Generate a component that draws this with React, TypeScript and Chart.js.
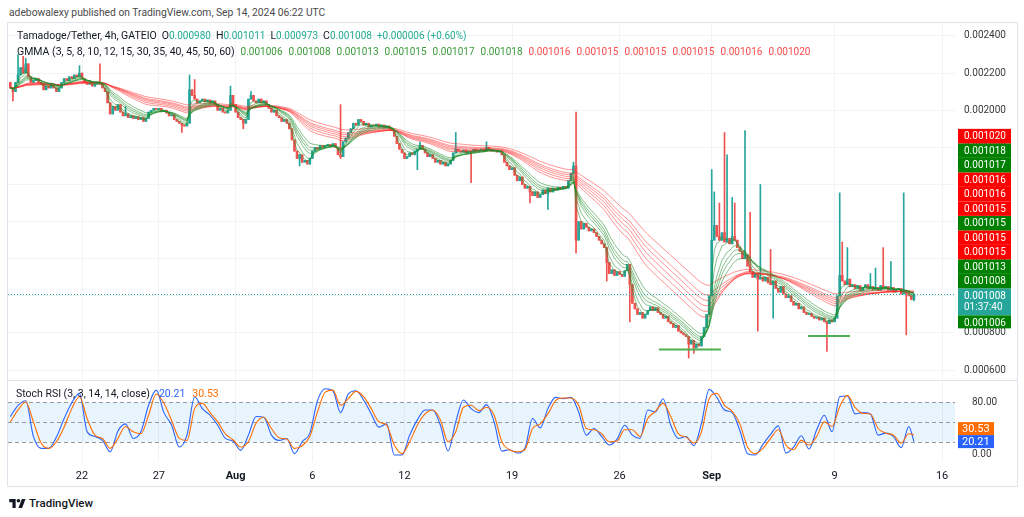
import React, { useEffect, useRef } from 'react';
import { Chart, registerables } from 'chart.js';

Chart.register(...registerables);

// ---------- time / units ----------
const PRICE_UNIT = 0.000001; // closes are written in millionths of USDT
const FIRST_CANDLE_DAY = 16 + 8 / 24; // days after 1 Jul 00:00 UTC (17 Jul 08:00)
const CANDLE_DAYS = 4 / 24;
const STOCH_STEP_DAYS = 12 / 24;
const X_MIN = 16.18;
const X_MAX = 77.84;

// ---------- price data (4h candles) ----------
const firstOpen = 2150;
const closes = [
  2120, 2100, 2150, 2190, 2230, 2200, 2250, 2180, 2150, 2160,
  2170, 2150, 2140, 2110, 2130, 2120, 2140, 2120, 2100, 2120,
  2150, 2170, 2160, 2180, 2170, 2190, 2180, 2200, 2170,
  2150, 2140, 2150, 2130, 2140, 2150, 2140, 2120, 2100,
  2040, 1980, 2020, 2000, 2030, 1990, 1970, 1980, 1960, 1970, 1955, 1965, 1950, 1960, 1940, 1955, 1990,
  2000, 2010, 2005, 2010, 1995, 2000, 1985, 1970, 1975, 1950,
  1940, 1930, 1920, 1915, 1930, 2110,
  2080, 2060, 2040, 2050, 2060, 2045, 2055, 2040, 2050, 2030, 2000, 2010, 1990, 1985, 2000, 2080,
  2030, 1990, 1960, 1950, 1930, 1950, 2060, 2080, 2050, 2040, 2060, 2040, 2050, 2030,
  2010, 1990, 2000, 1970, 1960, 1940, 1950, 1930, 1900, 1840, 1780,
  1740, 1760, 1720, 1730, 1710, 1740, 1780, 1800, 1790, 1810, 1800, 1810, 1815, 1805, 1820, 1800, 1760,
  1750, 1830, 1850, 1880, 1900, 1930, 1920, 1950, 1940, 1920, 1930, 1910, 1920, 1915, 1925, 1910, 1920, 1905, 1915, 1900,
  1890, 1860, 1820, 1790, 1770, 1740, 1750, 1770, 1760, 1780, 1790, 1810, 1790, 1770, 1750, 1760, 1740, 1720, 1730, 1710, 1720, 1700, 1710, 1730, 1770, 1790,
  1780, 1775, 1785, 1770, 1780, 1775, 1790, 1780, 1785, 1790, 1780, 1800, 1790, 1780, 1785, 1775, 1780, 1760,
  1720, 1700, 1680, 1690, 1650, 1620, 1640, 1600, 1580, 1590, 1560, 1540, 1560, 1530, 1545, 1570, 1550, 1580, 1560,
  1580, 1570, 1585, 1575, 1590, 1580, 1620, 1660, 1700, 1300, 1400, 1360, 1390,
  1370, 1350, 1360, 1340, 1320, 1300, 1280, 1260, 1180, 1120,
  1140, 1110, 1130, 1115, 1105, 1135, 1170, 1060, 960,
  930, 900, 910, 880, 900, 920, 940, 920, 935, 910, 900, 880, 890, 860,
  850, 830, 840, 810, 800, 790, 780, 740, 760, 720, 740, 730,
  780, 830, 900, 1000, 1300, 1380, 1320, 1300, 1340, 1290, 1310, 1280, 1320, 1300, 1260, 1240, 1200, 1220, 1160, 1130, 1100, 1120, 1090, 1100,
  1080, 1100, 1070, 1060, 1080, 1040, 1020, 1050, 1010, 990, 1000, 970, 950, 960, 930, 940, 910, 900, 905, 890, 880, 885, 870, 880, 860, 850, 870, 860, 880, 1000, 1110,
  1080, 1060, 1090, 1050, 1060, 1040, 1055, 1030, 1045, 1060, 1040, 1050, 1035, 1045, 1030, 1055, 1040, 1050, 1030, 1045, 1020, 1035, 1040, 1010, 1025, 1015, 1000, 980, 1008,
];
// notable wicks: [candle index, price]
const spikeHighs: [number, number][] = [
  [3, 2300], [5, 2290], [6, 2280], [27, 2240], [35, 2250], [45, 2020], [70, 2190], [72, 2165],
  [86, 2130], [94, 2100], [129, 2030], [160, 1830], [174, 1880], [186, 1830], [220, 1720], [221, 1990],
  [274, 1680], [275, 1560], [277, 1500], [279, 1880], [280, 1760], [282, 1530], [283, 1500], [287, 1890],
  [289, 1450], [293, 1600], [297, 1250], [324, 1555], [325, 1290], [327, 1260], [336, 1120], [338, 1150],
  [341, 1260], [344, 1185], [349, 1555], [353, 1011],
];
const spikeLows: [number, number][] = [
  [1, 2050], [67, 1880], [91, 1900], [113, 1700], [129, 1740], [159, 1680], [180, 1610], [203, 1500],
  [210, 1465], [221, 1230], [233, 1080], [242, 860], [265, 665], [267, 690], [292, 810], [298, 880],
  [319, 700], [350, 790], [353, 973],
];

const gmmaPeriods = [3, 5, 8, 10, 12, 15, 30, 35, 40, 45, 50, 60];
const gmmaLast = [0.001006, 0.001008, 0.001013, 0.001015, 0.001017, 0.001018, 0.001016, 0.001015, 0.001015, 0.001015, 0.001016, 0.00102];
const axisStackAbove = [11, 5, 4, 6, 10, 7, 3, 8, 9, 2, 1]; // top to bottom above the last price
const axisStackBelow = [0];

const lastPrice = 0.001008;
const countdown = '01:37:40';
const legendOHLC: [string, string][] = [['O', '0.000980'], ['H', '0.001011'], ['L', '0.000973'], ['C', '0.001008']];
const legendChange = '+0.000006 (+0.60%)';

const supportLines = [
  { from: 58.56, to: 62.6, price: 0.000711 },
  { from: 68.27, to: 71.0, price: 0.000784 },
];

const priceTicks = [0.0006, 0.0008, 0.001, 0.0012, 0.0014, 0.0016, 0.0018, 0.002, 0.0022, 0.0024];
const dateTicks = [21, 26, 31, 36, 42, 49, 56, 62, 70, 77];
const dateLabels = ['22', '27', 'Aug', '6', '12', '19', '26', 'Sep', '9', '16'];

// ---------- Stoch RSI (sampled every 12h) ----------
const stochK = [
  58, 75, 82, 28, 10, 10, 27, 55, 79, 93,
  35, 28, 22, 5, 36, 47, 25, 35, 75, 98,
  64, 45, 12, 30, 88, 70, 60, 45, 25, 21,
  7, 30, 58, 57, 30, 22, 25, 2, 20, 33,
  82, 100, 97, 64, 92, 97, 83, 62, 42, 47,
  0, 0, 30, 53, 68, 68, 45, 6, 50, 83,
  70, 64, 76, 50, 6, 8, 3, 10, 55, 41,
  70, 87, 85, 87, 65, 30, 40, 28, 15, 24,
  45, 30, 25, 68, 65, 85, 45, 25, 28, 14,
  48, 99, 87, 68, 64, 37, 2, 0, 16, 31,
  44, 3, 12, 29, 9, 38, 60, 35, 88, 89,
  62, 64, 62, 30, 33, 28, 11, 43,
];
const stochD = [
  50, 68, 80, 50, 18, 10, 20, 42, 70, 88,
  55, 30, 25, 10, 25, 43, 35, 32, 60, 92,
  78, 52, 25, 22, 70, 78, 64, 50, 32, 23,
  12, 20, 48, 57, 40, 26, 24, 10, 14, 28,
  65, 95, 98, 75, 85, 96, 88, 70, 50, 45,
  15, 2, 20, 45, 62, 68, 53, 20, 35, 72,
  75, 67, 72, 60, 20, 8, 5, 8, 40, 47,
  62, 82, 86, 86, 75, 40, 38, 32, 20, 21,
  38, 38, 28, 55, 66, 78, 58, 32, 27, 18,
  35, 85, 93, 75, 66, 47, 12, 2, 10, 25,
  38, 15, 8, 22, 15, 28, 50, 43, 73, 90,
  72, 63, 62, 40, 33, 30, 18, 32,
];
const stochLastK = 20.21;
const stochLastD = 30.53;
const stochLevels = [80, 50, 20];

// ---------- styles ----------
const UP = '#26a69a';
const DOWN = '#ef5350';
const GMMA_FAST = 'rgba(30,140,40,0.55)';
const GMMA_SLOW = 'rgba(255,40,40,0.5)';
const LABEL_GREEN = '#008000';
const LABEL_RED = '#ff0000';
const FONT = 'Roboto, "Noto Sans", sans-serif';
const GRID = '#f2f3f5';

function ema(values: number[], period: number) {
  const k = 2 / (period + 1);
  const out: number[] = [];
  let prev = values[0];
  values.forEach((v, i) => {
    prev = i === 0 ? v : v * k + prev * (1 - k);
    out.push(prev);
  });
  return out;
}

const candleDay = (i: number) => FIRST_CANDLE_DAY + i * CANDLE_DAYS;

const candles = closes.map((c, i) => {
  const o = i === 0 ? firstOpen : closes[i - 1];
  let h = Math.max(o, c);
  let l = Math.min(o, c);
  spikeHighs.forEach(([k, v]) => { if (k === i) h = Math.max(h, v); });
  spikeLows.forEach(([k, v]) => { if (k === i) l = Math.min(l, v); });
  return { d: candleDay(i), o: o * PRICE_UNIT, c: c * PRICE_UNIT, h: h * PRICE_UNIT, l: l * PRICE_UNIT, up: c >= o };
});

const mainOverlay = {
  id: 'mainOverlay',
  afterDatasetsDraw(chart: any) {
    const { ctx, chartArea, scales } = chart;
    const y = Math.round(scales.y.getPixelForValue(lastPrice)) + 0.5;
    ctx.save();
    ctx.strokeStyle = UP;
    ctx.lineWidth = 1;
    ctx.setLineDash([1, 2]);
    ctx.beginPath();
    ctx.moveTo(chartArea.left, y);
    ctx.lineTo(chartArea.right, y);
    ctx.stroke();
    ctx.restore();
  },
  afterDraw(chart: any) {
    const { ctx, chartArea, scales } = chart;
    const py = scales.y.getPixelForValue(lastPrice);
    const bx = chartArea.right + 3;
    const bw = 53;
    const h = 14.5;
    ctx.save();
    ctx.font = `10px ${FONT}`;
    ctx.textBaseline = 'middle';
    ctx.textAlign = 'left';
    const drawBox = (top: number, height: number, bg: string, lines: string[]) => {
      ctx.fillStyle = bg;
      ctx.fillRect(bx, top, bw, height);
      ctx.fillStyle = '#ffffff';
      lines.forEach((t, k) => ctx.fillText(t, bx + 6, top + h / 2 + k * 11.5 + 0.5));
    };
    const curTop = py - 6;
    drawBox(curTop, 27, UP, [lastPrice.toFixed(6), countdown]);
    const above = axisStackAbove.slice().reverse();
    above.forEach((idx, k) => {
      const top = curTop - (k + 1) * h;
      drawBox(top, h, idx < 6 ? LABEL_GREEN : LABEL_RED, [gmmaLast[idx].toFixed(6)]);
    });
    axisStackBelow.forEach((idx, k) => {
      const top = curTop + 27 + k * h;
      drawBox(top, 13, idx < 6 ? LABEL_GREEN : LABEL_RED, [gmmaLast[idx].toFixed(6)]);
    });
    ctx.restore();
  },
};

const stochOverlay = {
  id: 'stochOverlay',
  beforeDatasetsDraw(chart: any) {
    const { ctx, chartArea, scales } = chart;
    const y80 = scales.y.getPixelForValue(80);
    const y20 = scales.y.getPixelForValue(20);
    ctx.save();
    ctx.fillStyle = 'rgba(33,150,243,0.1)';
    ctx.fillRect(chartArea.left, y80, chartArea.right - chartArea.left, y20 - y80);
    ctx.strokeStyle = '#9598a1';
    ctx.lineWidth = 1;
    ctx.setLineDash([4, 3]);
    stochLevels.forEach((v) => {
      const yy = Math.round(scales.y.getPixelForValue(v)) + 0.5;
      ctx.beginPath();
      ctx.moveTo(chartArea.left, yy);
      ctx.lineTo(chartArea.right, yy);
      ctx.stroke();
    });
    ctx.restore();
  },
  afterDraw(chart: any) {
    const { ctx, chartArea, scales } = chart;
    const bx = chartArea.right + 3;
    const bw = 36;
    const h = 13;
    const kTop = scales.y.getPixelForValue(stochLastK) - h / 2;
    let dTop = scales.y.getPixelForValue(stochLastD) - h / 2;
    if (dTop + h > kTop) dTop = kTop - h;
    ctx.save();
    ctx.font = `11px ${FONT}`;
    ctx.textBaseline = 'middle';
    ctx.textAlign = 'left';
    ctx.fillStyle = '#ff6d00';
    ctx.fillRect(bx, dTop, bw, h);
    ctx.fillStyle = '#2962ff';
    ctx.fillRect(bx, kTop, bw, h);
    ctx.fillStyle = '#ffffff';
    ctx.fillText(stochLastD.toFixed(2), bx + 4, dTop + h / 2 + 0.5);
    ctx.fillText(stochLastK.toFixed(2), bx + 4, kTop + h / 2 + 0.5);
    ctx.restore();
  },
};

// main pane: canvas 0..394, plot area 23..379 (the axis reserves 15px under the plot)
function MainChart() {
  const ref = useRef<HTMLCanvasElement>(null);
  useEffect(() => {
    if (!ref.current) return;
    const closePrices = closes.map((c) => c * PRICE_UNIT);
    const gmmaSets = gmmaPeriods.map((p, k) => {
      const vals = ema(closePrices, p);
      return {
        type: 'line' as const,
        data: vals.map((v, i) => ({ x: candleDay(i), y: v })),
        borderColor: k < 6 ? GMMA_FAST : GMMA_SLOW,
        borderWidth: 1,
        pointRadius: 0,
        tension: 0,
        order: 2 + k,
      };
    });
    const supportSets = supportLines.map((s) => ({
      type: 'line' as const,
      data: [{ x: s.from, y: s.price }, { x: s.to, y: s.price }],
      borderColor: '#4caf50',
      borderWidth: 2,
      pointRadius: 0,
      order: 1,
    }));
    const chart = new Chart(ref.current, {
      type: 'bar',
      data: {
        datasets: [
          ...gmmaSets,
          ...supportSets,
          {
            type: 'bar',
            data: candles.map((c) => ({ x: c.d, y: [c.l, c.h] })),
            backgroundColor: candles.map((c) => (c.up ? UP : DOWN)),
            barThickness: 1,
            grouped: false,
            order: 31,
          } as any,
          {
            type: 'bar',
            data: candles.map((c) => ({ x: c.d, y: [c.o, c.c] })),
            backgroundColor: candles.map((c) => (c.up ? UP : DOWN)),
            barThickness: 2,
            minBarLength: 1,
            grouped: false,
            order: 30,
          } as any,
        ],
      },
      options: {
        responsive: false,
        animation: false,
        events: [],
        layout: { padding: { left: 8, right: 7, top: 23, bottom: 15 } },
        plugins: { legend: { display: false }, tooltip: { enabled: false } },
        scales: {
          x: {
            type: 'linear',
            min: X_MIN,
            max: X_MAX,
            offset: false,
            grid: { color: GRID, drawTicks: false, offset: false },
            border: { display: false },
            ticks: { display: false },
            afterBuildTicks: (s: any) => { s.ticks = dateTicks.map((v) => ({ value: v })); },
            afterFit: (s: any) => { s.height = 0; },
          },
          y: {
            position: 'right',
            min: 0.000552,
            max: 0.00247,
            grid: { color: GRID, drawTicks: false },
            border: { display: false },
            ticks: {
              color: '#3a3a3a',
              font: { family: FONT, size: 10 },
              padding: 9,
              callback: (v: any) => Number(v).toFixed(6),
            },
            afterBuildTicks: (s: any) => { s.ticks = priceTicks.map((v) => ({ value: v })); },
            afterFit: (s: any) => { s.width = 62; },
          },
        },
      } as any,
      plugins: [mainOverlay],
    });
    return () => chart.destroy();
  }, []);
  return <canvas ref={ref} width={1024} height={394} style={{ position: 'absolute', left: 0, top: 0, width: 1024, height: 394, display: 'block' }} />;
}

// stoch pane: canvas 366..486, plot area 381..462
function StochChart() {
  const ref = useRef<HTMLCanvasElement>(null);
  useEffect(() => {
    if (!ref.current) return;
    const lastDay = candleDay(closes.length - 1);
    const kData = stochK.map((v, j) => ({ x: FIRST_CANDLE_DAY + j * STOCH_STEP_DAYS, y: v })).concat([{ x: lastDay, y: stochLastK }]);
    const dData = stochD.map((v, j) => ({ x: FIRST_CANDLE_DAY + j * STOCH_STEP_DAYS, y: v })).concat([{ x: lastDay, y: stochLastD }]);
    const chart = new Chart(ref.current, {
      type: 'line',
      data: {
        datasets: [
          { data: kData, borderColor: '#2962ff', borderWidth: 1.1, pointRadius: 0, cubicInterpolationMode: 'monotone', order: 2 },
          { data: dData, borderColor: '#ff6d00', borderWidth: 1.1, pointRadius: 0, cubicInterpolationMode: 'monotone', order: 1 },
        ],
      },
      options: {
        responsive: false,
        animation: false,
        events: [],
        layout: { padding: { left: 8, right: 7, top: 15, bottom: 0 } },
        plugins: { legend: { display: false }, tooltip: { enabled: false } },
        scales: {
          x: {
            type: 'linear',
            min: X_MIN,
            max: X_MAX,
            grid: { color: GRID, drawTicks: false },
            border: { display: false },
            ticks: {
              color: '#131722',
              padding: 8,
              maxRotation: 0,
              autoSkip: false,
              font: (ctx: any) => ({
                family: FONT,
                size: 11,
                weight: ctx.tick && (ctx.tick.label === 'Aug' || ctx.tick.label === 'Sep') ? 'bold' : 'normal',
              }),
              callback: (v: any) => {
                const k = dateTicks.indexOf(Number(v));
                return k >= 0 ? dateLabels[k] : '';
              },
            },
            afterBuildTicks: (s: any) => { s.ticks = dateTicks.map((v) => ({ value: v })); },
            afterFit: (s: any) => { s.height = 24; },
          },
          y: {
            position: 'right',
            min: -10.57,
            max: 111.7,
            grid: { display: false },
            border: { display: false },
            ticks: {
              color: '#3a3a3a',
              font: { family: FONT, size: 10 },
              padding: 9,
              callback: (v: any) => Number(v).toFixed(2),
            },
            afterBuildTicks: (s: any) => { s.ticks = [{ value: 80 }, { value: 0 }]; },
            afterFit: (s: any) => { s.width = 62; },
          },
        },
      } as any,
      plugins: [stochOverlay],
    });
    return () => chart.destroy();
  }, []);
  return <canvas ref={ref} width={1024} height={120} style={{ position: 'absolute', left: 0, top: 366, width: 1024, height: 120, display: 'block' }} />;
}

export default function App() {
  const txt = { fontFamily: FONT, fontSize: 10.5, lineHeight: '16px', whiteSpace: 'nowrap' as const, position: 'absolute' as const };
  const num = { fontSize: 10 };
  return (
    <div style={{ position: 'fixed', left: 0, top: 0, width: 1024, height: 517, background: '#ffffff', overflow: 'hidden' }}>
      <div style={{ ...txt, left: 9, top: 5, fontSize: 10.3, color: '#4a4a4a' }}>
        adebowalexy published on TradingView.com, Sep 14, 2024 06:22 UTC
      </div>
      <div style={{ position: 'absolute', left: 7, top: 22, width: 1011, height: 465, border: '1px solid #e0e3eb', boxSizing: 'border-box' }} />
      <div style={{ position: 'absolute', left: 8, top: 380, width: 1009, height: 1, background: '#e0e3eb' }} />
      <MainChart />
      <StochChart />
      <div style={{ ...txt, left: 17, top: 28, color: '#131722' }}>
        <span>Tamadoge/Tether, 4h, GATEIO</span>
        {legendOHLC.map(([k, v]) => (
          <span key={k} style={{ marginLeft: 5 }}>
            {k}
            <span style={{ ...num, color: '#22ab94' }}>{v}</span>
          </span>
        ))}
        <span style={{ ...num, marginLeft: 5, color: '#22ab94' }}>{legendChange}</span>
      </div>
      <div style={{ ...txt, left: 17, top: 44, color: '#131722' }}>
        <span>GMMA ({gmmaPeriods.join(', ')})</span>
        {gmmaLast.map((v, k) => (
          <span key={k} style={{ ...num, marginLeft: 6, color: k < 6 ? '#3a9a3a' : '#ff4a4a' }}>{v.toFixed(6)}</span>
        ))}
      </div>
      <div style={{ ...txt, left: 16, top: 386, color: '#131722' }}>
        <span>Stoch RSI (3, 3, 14, 14, close)</span>
        <span style={{ marginLeft: 9, color: '#2962ff' }}>{stochLastK.toFixed(2)}</span>
        <span style={{ marginLeft: 7, color: '#ff6d00' }}>{stochLastD.toFixed(2)}</span>
      </div>
      <div style={{ position: 'absolute', left: 9, top: 496, display: 'flex', alignItems: 'center' }}>
        <svg width="17" height="11" viewBox="0 0 36 24">
          <path d="M14 22H7V9H0V2h14v20z" fill="#131722" />
          <circle cx="20" cy="6" r="4" fill="#131722" />
          <path d="M28 22h-8L27.5 2h8L28 22z" fill="#131722" />
        </svg>
        <span style={{ fontFamily: FONT, fontSize: 11.5, fontWeight: 500, color: '#131722', marginLeft: 3 }}>TradingView</span>
      </div>
    </div>
  );
}
